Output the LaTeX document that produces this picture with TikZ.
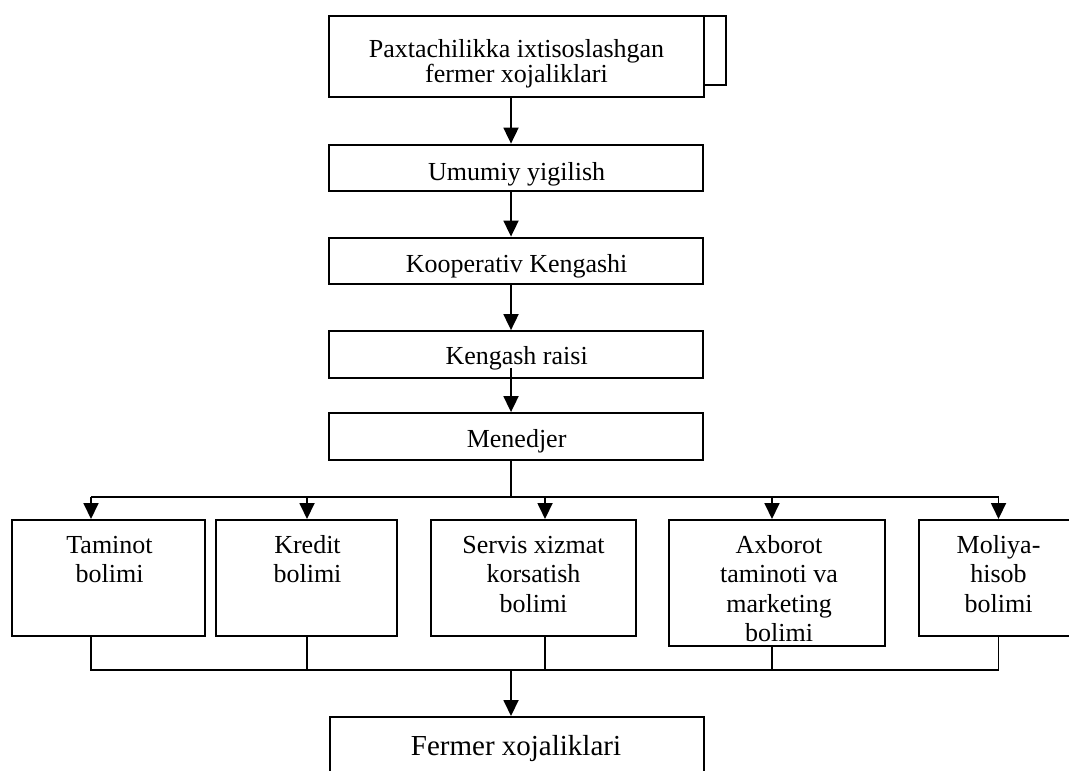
\documentclass[tikz,border=0pt]{standalone}
\usepackage{fontspec}
\setmainfont{Liberation Serif}
\usetikzlibrary{arrows.meta,calc}
\tikzset{>={Triangle[length=8pt,width=7.5pt]}}
\tikzset{
  box/.style={draw, line width=1pt, fill=white, inner sep=0pt, minimum width=14.4em, minimum height=1.8em},
  dept/.style={box, minimum height=4.462em},
  lbl/.style={anchor=base, align=center, inner sep=0pt},
  link/.style={line width=0.9pt}
}

\begin{document}
\begin{tikzpicture}
\fontsize{13}{14.75}\selectfont
\useasboundingbox (0em,0em) rectangle (41.115em,-29.615em);
\coordinate (spine) at (19.654em,0em);
% upper chain
\draw[line width=1pt,fill=white] (13.077em,-0.615em) rectangle (27.923em,-3.269em);
\node[box, minimum width=14.423em, minimum height=3.115em] (farm) at (19.865em,-2.173em) {};
\node[box] (umumiy) at (19.846em,-6.462em) {};
\node[box] (kengash) at (19.846em,-10.038em) {};
\node[box] (raisi) at (19.846em,-13.635em) {};
\node[box] (menedjer) at (19.846em,-16.788em) {};
% base of a multi-line label = its last line
\node[lbl, font=\fontsize{13}{12.5}\selectfont] (farmtxt) at (19.865em,-3.154em) {Paxtachilikka ixtisoslashgan\\fermer xojaliklari};
\node[lbl] (umumiytxt) at (19.87em,-6.923em) {Umumiy yigilish};
\node[lbl] (kengashtxt) at (19.87em,-10.462em) {Kooperativ Kengashi};
\node[lbl] (raisitxt) at (19.87em,-14.038em) {Kengash raisi};
\node[lbl] (menedjertxt) at (19.87em,-17.192em) {Menedjer};
\draw[link,->] (farm.south -| spine) -- (umumiy.north -| spine);
\draw[link,->] (umumiy.south -| spine) -- (kengash.north -| spine);
\draw[link,->] (kengash.south -| spine) -- (raisi.north -| spine);
\draw[link,->] ($(raisi.south -| spine)+(0,0.423em)$) -- (menedjer.north -| spine);
% departments
\node[dept, minimum width=7.423em] (taminot) at (4.173em,-22.231em) {};
\node[dept, minimum width=6.962em] (kredit) at (11.788em,-22.231em) {};
\node[dept, minimum width=7.885em] (servis) at (20.519em,-22.231em) {};
\node[dept, minimum width=8.308em, minimum height=4.846em] (axborot) at (29.885em,-22.423em) {};
\node[dept, minimum width=6.115em] (moliya) at (38.404em,-22.231em) {};
\node[lbl] (taminottxt) at (4.212em,-22.404em) {Taminot\\bolimi};
\node[lbl] (kredittxt) at (11.827em,-22.404em) {Kredit\\bolimi};
\node[lbl] (servistxt) at (20.519em,-23.538em) {Servis xizmat\\korsatish\\bolimi};
\node[lbl] (axborottxt) at (29.962em,-24.673em) {Axborot\\taminoti va\\marketing\\bolimi};
\node[lbl] (moliyatxt) at (38.404em,-23.538em) {Moliya-\\hisob\\bolimi};
\coordinate (d1) at (3.5em,-19.115em);
\coordinate (d2) at (11.808em,-19.115em);
\coordinate (d3) at (20.962em,-19.115em);
\coordinate (d4) at (29.692em,-19.115em);
\coordinate (d5) at (38.404em,-19.115em);
\draw[link] (menedjer.south -| spine) -- (spine |- d1);
\draw[link] (d1) -- (d5);
\draw[link,->] (d1) -- (d1 |- taminot.north);
\draw[link,->] (d2) -- (d2 |- kredit.north);
\draw[link,->] (d3) -- (d3 |- servis.north);
\draw[link,->] (d4) -- (d4 |- axborot.north);
\draw[link,->] (d5) -- (d5 |- moliya.north);
% lower bus
\coordinate (bus) at (0em,-25.769em);
\node[box, minimum width=14.365em, minimum height=2.808em] (fermer) at (19.875em,-28.981em) {};
\node[lbl, font=\fontsize{14.5}{17}\selectfont] (fermertxt) at (19.846em,-29.038em) {Fermer xojaliklari};
\draw[link] (d1 |- taminot.south) -- (d1 |- bus) -- (d5 |- bus) -- (d5 |- moliya.south);
\draw[link] (d2 |- kredit.south) -- (d2 |- bus);
\draw[link] (d3 |- servis.south) -- (d3 |- bus);
\draw[link] (d4 |- axborot.south) -- (d4 |- bus);
\draw[link,->] (spine |- bus) -- (spine |- fermer.north);
\end{tikzpicture}
\end{document}
